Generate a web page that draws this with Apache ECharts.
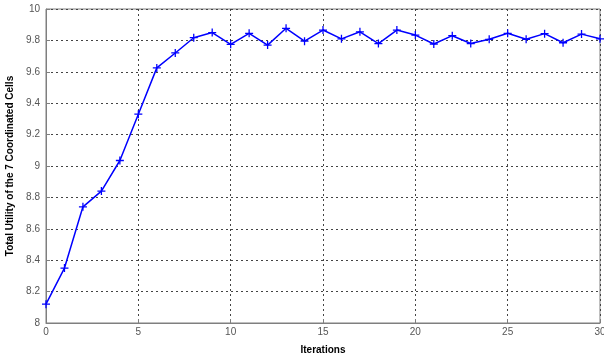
<!DOCTYPE html>
<html><head><meta charset="utf-8">
<script src="https://cdn.jsdelivr.net/npm/echarts@6/dist/echarts.min.js"></script>
<style>html,body{margin:0;padding:0;background:#fff}#c{width:604px;height:357px}</style>
</head><body><div id="c"></div>
<script>
const iterations = [0,1,2,3,4,5,6,7,8,9,10,11,12,13,14,15,16,17,18,19,20,21,22,23,24,25,26,27,28,29,30];
const utility = [8.12,8.35,8.74,8.84,9.035,9.33,9.625,9.72,9.817,9.85,9.775,9.845,9.77,9.877,9.795,9.866,9.81,9.855,9.78,9.866,9.834,9.777,9.83,9.78,9.807,9.845,9.807,9.843,9.785,9.84,9.81];
const xName = 'Iterations';
const yName = 'Total Utility of the 7 Coordinated Cells';

const chart = echarts.init(document.getElementById('c'), null, {renderer:'canvas'});
const axisLine = {show:true, lineStyle:{color:'#7f7f7f', width:1}};
const split = {show:true, lineStyle:{color:'#444', type:[2,3], width:1}};
const lbl = {color:'#555', fontFamily:'Liberation Sans, Arial', fontSize:10};
const nameStyle = {fontFamily:'Liberation Sans, Arial', fontWeight:'bold', fontSize:10, color:'#000'};
chart.setOption({
  animation:false,
  grid:{left:46, right:4, top:9, bottom:34, show:true, borderColor:'#7f7f7f', borderWidth:1, containLabel:false, outerBoundsMode:'none'},
  xAxis:{type:'value', min:0, max:30, interval:5, name:xName, nameLocation:'middle', nameGap:22,
    nameTextStyle:nameStyle,
    axisLine:axisLine, axisTick:{show:true, inside:true, length:4, lineStyle:{color:'#7f7f7f'}},
    axisLabel:Object.assign({margin:4}, lbl), splitLine:split},
  yAxis:{type:'value', min:8, max:10, interval:0.2, name:yName, nameLocation:'middle', nameGap:21,
    nameTextStyle:nameStyle,
    axisLine:axisLine, axisTick:{show:true, inside:true, length:4, lineStyle:{color:'#7f7f7f'}},
    axisLabel:Object.assign({margin:6, formatter:v=>String(+v.toFixed(1))}, lbl), splitLine:split},
  series:[{type:'line', data:iterations.map((x,i)=>[x, utility[i]]),
    lineStyle:{color:'#0000ff', width:1.5},
    itemStyle:{color:'#0000ff'},
    symbol:'path://M4.2,0H5.8V4.2H10V5.8H5.8V10H4.2V5.8H0V4.2H4.2Z', symbolSize:8, showAllSymbol:true}]
});
</script></body></html>
